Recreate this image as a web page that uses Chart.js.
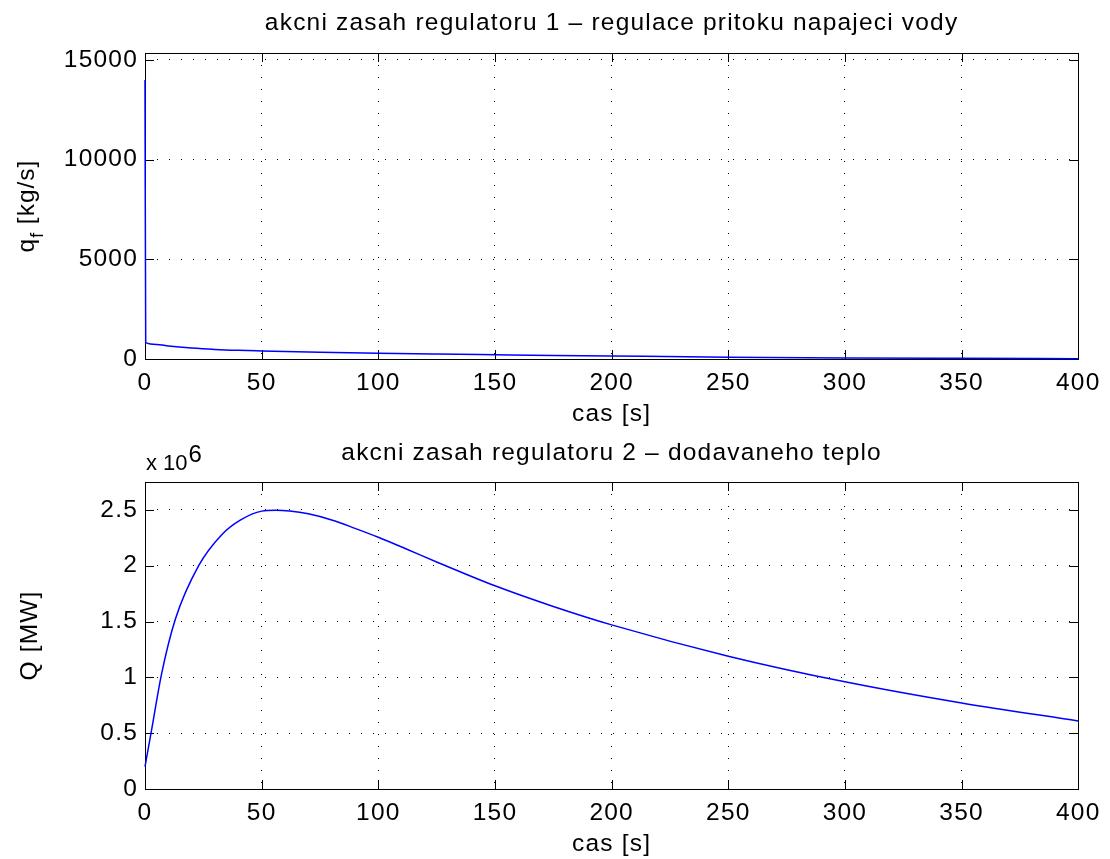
<!DOCTYPE html>
<html>
<head>
<meta charset="utf-8">
<script src="https://cdn.jsdelivr.net/npm/chart.js@4.4.1/dist/chart.umd.min.js"></script>
<style>
  html, body { margin: 0; padding: 0; background: #fff; }
  #wrap { position: relative; width: 1110px; height: 859px; }
  .box  { position: absolute; left: 0; width: 1110px; }
  #b1 { top: 0;     height: 430px; }
  #b2 { top: 430px; height: 429px; }
</style>
</head>
<body>
<div id="wrap">
  <div class="box" id="b1"><canvas id="c1"></canvas></div>
  <div class="box" id="b2"><canvas id="c2"></canvas></div>
</div>
<script>
/* ── data ───────────────────────────────────────────────────── */
const X_TICKS    = [0, 50, 100, 150, 200, 250, 300, 350, 400];
const FLOW_TICKS = [0, 5000, 10000, 15000];
const HEAT_TICKS = [0, 0.5e6, 1e6, 1.5e6, 2e6, 2.5e6];

// regulator 1 – feed water flow q_f [kg/s]
const FLOW_T   = [0, 0.3, 5, 10, 20, 30, 40, 50, 75, 100, 125, 150, 175, 200, 250, 300, 350, 400];
const FLOW_KGS = [14000, 820, 730, 655, 550, 480, 435, 405, 340, 285, 245, 212, 180, 150, 92, 55, 33, 18];

// regulator 2 – supplied heat Q
const HEAT_T = [0, 3, 7, 13, 23, 33, 41, 50, 56, 62, 70, 80, 90, 100, 112, 126, 150, 175, 200, 250, 300, 350, 400];
const HEAT_Q = [0.2e6, 0.55e6, 1.02e6, 1.52e6, 2.0e6, 2.28e6, 2.41e6, 2.489e6, 2.497e6, 2.49e6, 2.465e6, 2.41e6,
                2.335e6, 2.255e6, 2.15e6, 2.025e6, 1.82e6, 1.635e6, 1.47e6, 1.19e6, 0.96e6, 0.77e6, 0.61e6];

/* ── defaults ───────────────────────────────────────────────── */
const FONT = '"Liberation Sans", Arial, sans-serif';
const SPACING = '1.2px';   // the exported figure uses a wide Helvetica

Chart.defaults.font.family = FONT;
Chart.defaults.font.size   = 24.5;
Chart.defaults.color       = '#000';
Chart.defaults.animation   = false;

// keep the letter spacing on the context (it is lost on every resize)
const spacing = {
  id: 'spacing',
  beforeUpdate(chart) { chart.ctx.letterSpacing = SPACING; },
  beforeLayout(chart) { chart.ctx.letterSpacing = SPACING; },
  beforeDraw(chart)   { chart.ctx.letterSpacing = SPACING; },
  resize(chart)       { chart.ctx.letterSpacing = SPACING; },
};

// box + inward tick marks on all four sides (matlab style)
const frame = {
  id: 'frame',
  beforeDatasetsDraw(chart) {
    const { ctx, chartArea: a, scales } = chart;
    const L = 9;
    ctx.save();
    ctx.strokeStyle = '#000';
    ctx.lineWidth = 1;
    ctx.setLineDash([]);
    ctx.beginPath();
    scales.x.ticks.forEach(t => {
      const px = Math.round(scales.x.getPixelForValue(t.value)) + 0.5;
      ctx.moveTo(px, a.bottom); ctx.lineTo(px, a.bottom - L);
      ctx.moveTo(px, a.top);    ctx.lineTo(px, a.top + L);
    });
    scales.y.ticks.forEach(t => {
      const py = Math.round(scales.y.getPixelForValue(t.value)) + 0.5;
      ctx.moveTo(a.left, py);  ctx.lineTo(a.left + L, py);
      ctx.moveTo(a.right, py); ctx.lineTo(a.right - L, py);
    });
    ctx.stroke();
    ctx.strokeRect(Math.round(a.left) + 0.5, Math.round(a.top) + 0.5,
                   Math.round(a.right - a.left), Math.round(a.bottom - a.top));
    ctx.restore();
  }
};

// y label with subscript: q_f [kg/s]
const flowLabel = {
  id: 'flowLabel',
  afterDraw(chart) {
    const { ctx, chartArea: a } = chart;
    const big = '24.5px ' + FONT, small = '17.5px ' + FONT;
    ctx.save();
    ctx.letterSpacing = '1px';
    ctx.fillStyle = '#000';
    ctx.translate(33.5, (a.top + a.bottom) / 2);
    ctx.rotate(-Math.PI / 2);
    ctx.textBaseline = 'alphabetic';
    ctx.font = big;   const wq = ctx.measureText('q').width;
    const wr = ctx.measureText(' [kg/s]').width;
    ctx.font = small; const wf = ctx.measureText('f').width;
    let x = -(wq + wf + wr) / 2;
    ctx.font = big;   ctx.fillText('q', x, 0); x += wq;
    ctx.font = small; ctx.fillText('f', x, 9); x += wf;
    ctx.font = big;   ctx.fillText(' [kg/s]', x, 0);
    ctx.restore();
  }
};

// "x 10^6" multiplier over the axis
const expLabel = {
  id: 'expLabel',
  afterDraw(chart) {
    const { ctx, chartArea: a } = chart;
    ctx.save();
    ctx.letterSpacing = '0px';
    ctx.fillStyle = '#000';
    ctx.textBaseline = 'alphabetic';
    ctx.font = '22px ' + FONT;
    const base = 'x 10';
    ctx.fillText(base, a.left + 1, a.top - 12);
    const w = ctx.measureText(base).width;
    ctx.font = '24px ' + FONT;
    ctx.fillText('6', a.left + 2 + w, a.top - 20.5);
    ctx.restore();
  }
};

function xScale(height, titleBottom) {
  return {
    type: 'linear', min: 0, max: 400,
    afterBuildTicks: s => { s.ticks = X_TICKS.map(v => ({ value: v })); },
    afterFit: s => { s.height = height; },
    grid: { color: '#000', lineWidth: 1, drawTicks: false },
    border: { display: false, dash: [1, 11] },
    ticks: { padding: 9.5, maxRotation: 0, autoSkip: false },
    title: { display: true, text: 'cas [s]', padding: { top: 0, bottom: titleBottom } },
  };
}

function yScale(max, ticks, fmt, title) {
  return {
    type: 'linear', min: 0, max: max,
    afterBuildTicks: s => { s.ticks = ticks.map(v => ({ value: v })); },
    afterFit: s => { s.width = 145; },
    grid: { color: '#000', lineWidth: 1, drawTicks: false },
    border: { display: false, dash: [1, 11] },
    ticks: { padding: 7, autoSkip: false, callback: fmt },
    title: title,
  };
}

function lineDs(xs, ys) {
  return {
    data: xs.map((x, i) => ({ x: x, y: ys[i] })),
    borderColor: '#0000ff', borderWidth: 1.5,
    pointRadius: 0, fill: false, clip: 3,
    cubicInterpolationMode: 'monotone',
  };
}

function chartTitle(text, top, bottom) {
  return {
    display: true, color: '#000', text: text, fullSize: false,
    font: { size: 24.5, weight: 'normal' }, padding: { top: top, bottom: bottom },
  };
}

new Chart(document.getElementById('c1'), {
  type: 'line',
  data: { datasets: [lineDs(FLOW_T, FLOW_KGS)] },
  options: {
    responsive: true, maintainAspectRatio: false,
    layout: { padding: { left: 0, right: 27, top: 0, bottom: 0 } },
    plugins: {
      legend: { display: false }, tooltip: { enabled: false },
      title: chartTitle('akcni zasah regulatoru 1 \u2013 regulace pritoku napajeci vody', 8.8, 14.8),
    },
    scales: {
      x: xScale(71, 0.8),
      y: yScale(15350, FLOW_TICKS, v => String(v), { display: false }),
    },
  },
  plugins: [spacing, frame, flowLabel],
});

new Chart(document.getElementById('c2'), {
  type: 'line',
  data: { datasets: [lineDs(HEAT_T, HEAT_Q)] },
  options: {
    responsive: true, maintainAspectRatio: false,
    layout: { padding: { left: 0, right: 27, top: 0, bottom: 0 } },
    plugins: {
      legend: { display: false }, tooltip: { enabled: false },
      title: chartTitle('akcni zasah regulatoru 2 \u2013 dodavaneho teplo', 8.3, 14.3),
    },
    scales: {
      x: xScale(70, 0),
      y: yScale(2.75e6, HEAT_TICKS, v => String(+(v / 1e6).toFixed(1)),
                { display: true, text: 'Q [MW]', padding: { top: 15.5, bottom: 0 } }),
    },
  },
  plugins: [spacing, frame, expLabel],
});
</script>
</body>
</html>
